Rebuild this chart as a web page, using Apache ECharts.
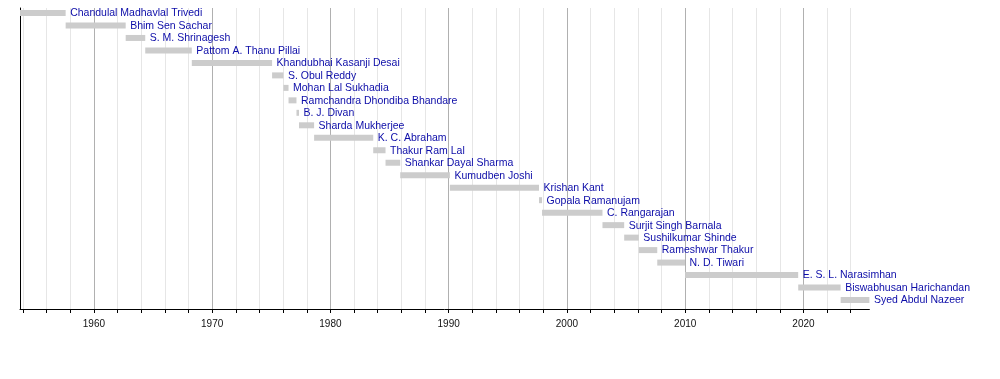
<!DOCTYPE html>
<html>
<head>
<meta charset="utf-8">
<script src="https://cdn.jsdelivr.net/npm/echarts@6/dist/echarts.min.js"></script>
<style>
  html, body { margin: 0; padding: 0; background: #ffffff; }
  #chart { width: 1000px; height: 379px; }
</style>
</head>
<body>
<div id="chart"></div>
<script>
// Governors (top to bottom)
const names = [
  "Chandulal Madhavlal Trivedi",
  "Bhim Sen Sachar",
  "S. M. Shrinagesh",
  "Pattom A. Thanu Pillai",
  "Khandubhai Kasanji Desai",
  "S. Obul Reddy",
  "Mohan Lal Sukhadia",
  "Ramchandra Dhondiba Bhandare",
  "B. J. Divan",
  "Sharda Mukherjee",
  "K. C. Abraham",
  "Thakur Ram Lal",
  "Shankar Dayal Sharma",
  "Kumudben Joshi",
  "Krishan Kant",
  "Gopala Ramanujam",
  "C. Rangarajan",
  "Surjit Singh Barnala",
  "Sushilkumar Shinde",
  "Rameshwar Thakur",
  "N. D. Tiwari",
  "E. S. L. Narasimhan",
  "Biswabhusan Harichandan",
  "Syed Abdul Nazeer"
];
const startDates = [
  "1953-10-01", "1957-08-11", "1962-09-08", "1964-05-04", "1968-04-11",
  "1975-01-25", "1976-01-10", "1976-06-16", "1977-02-17", "1977-05-05",
  "1978-08-15", "1983-08-15", "1984-08-29", "1985-11-26", "1990-02-07",
  "1997-08-22", "1997-11-24", "2003-01-03", "2004-11-04", "2006-01-29",
  "2007-08-22", "2009-12-28", "2019-07-24", "2023-02-24"
];
const endDates = [
  "1957-08-11", "1962-09-08", "1964-05-04", "1968-04-11", "1975-01-25",
  "1976-01-10", "1976-06-16", "1977-02-17", "1977-05-05", "1978-08-15",
  "1983-08-15", "1984-08-29", "1985-11-26", "1990-02-07", "1997-08-22",
  "1997-11-24", "2003-01-03", "2004-11-04", "2006-01-29", "2007-08-22",
  "2009-12-27", "2019-07-23", "2023-02-23", "2025-07-31"
];
const axisStart = "1953-10-01";
const axisEnd = "2025-07-31";
const minorYears = [1954,1956,1958,1960,1962,1964,1966,1968,1970,1972,1974,1976,1978,1980,1982,1984,1986,1988,1990,1992,1994,1996,1998,2000,2002,2004,2006,2008,2010,2012,2014,2016,2018,2020,2022,2024];
const labelYears = [1960,1970,1980,1990,2000,2010,2020];

function toYear(s) {
  const d = new Date(s + "T00:00:00Z");
  const y = d.getUTCFullYear();
  const a = Date.UTC(y, 0, 1), b = Date.UTC(y + 1, 0, 1);
  return y + (d.getTime() - a) / (b - a);
}

const data = names.map((n, i) => [toYear(startDates[i]), toYear(endDates[i]), i]);
const X_MIN = toYear(axisStart), X_MAX = toYear(axisEnd);

const chart = echarts.init(document.getElementById('chart'), null, { renderer: 'canvas' });
chart.setOption({
  animation: false,
  backgroundColor: '#ffffff',
  grid: { left: 20, right: 130.6, top: 8, bottom: 70, containLabel: false },
  xAxis: [{
    type: 'value', min: X_MIN, max: X_MAX, position: 'bottom',
    axisLine: { show: true, onZero: false, lineStyle: { color: '#000', width: 1 } },
    axisTick: { show: true, customValues: minorYears, length: 4, lineStyle: { color: '#000' } },
    axisLabel: { show: true, customValues: labelYears, formatter: v => String(Math.round(v)),
      color: '#111', fontSize: 10, margin: 10, fontFamily: 'Liberation Sans' },
    splitLine: { show: true, lineStyle: { color: '#e6e6e6', width: 1 } }
  }, {
    type: 'value', min: X_MIN, max: X_MAX, position: 'bottom', offset: 0,
    axisLine: { show: false },
    axisTick: { show: false, customValues: labelYears },
    axisLabel: { show: false, customValues: labelYears },
    splitLine: { show: true, lineStyle: { color: '#b0b0b0', width: 1 } }
  }],
  yAxis: {
    type: 'value', inverse: true, min: -0.4, max: 23.72,
    axisLine: { show: true, onZero: false, lineStyle: { color: '#000', width: 1 } },
    axisTick: { show: false }, axisLabel: { show: false }, splitLine: { show: false }
  },
  series: [{
    type: 'custom',
    clip: false,
    xAxisIndex: 0,
    encode: { x: [0, 1], y: 2 },
    data: data,
    renderItem: function (params, api) {
      const idx = api.value(2);
      const s = api.coord([api.value(0), idx]);
      const e = api.coord([api.value(1), idx]);
      const h = 6;
      return {
        type: 'group',
        children: [{
          type: 'rect',
          shape: { x: s[0], y: s[1] - h / 2, width: Math.max(e[0] - s[0], 1), height: h },
          style: { fill: '#cccccc' }
        }, {
          type: 'text',
          style: {
            x: e[0] + 4.5, y: s[1] + 0.5,
            text: names[idx],
            fill: '#0c0ca8',
            font: '10.5px "Liberation Sans", Arial, sans-serif',
            verticalAlign: 'middle', align: 'left'
          }
        }]
      };
    }
  }]
});
</script>
</body>
</html>
